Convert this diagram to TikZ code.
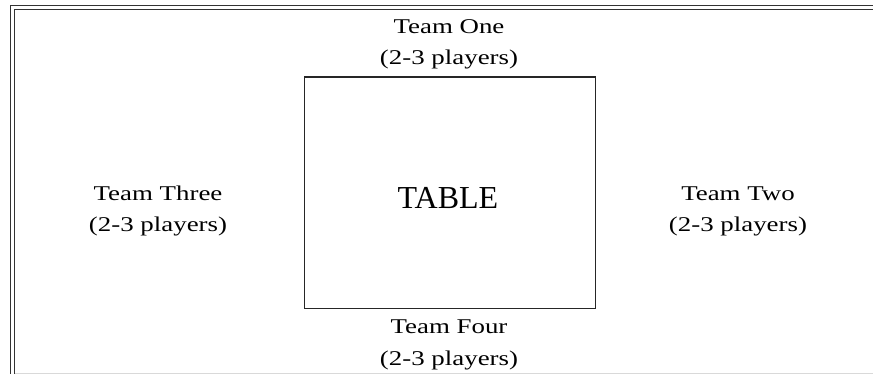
\documentclass[tikz,border=0pt]{standalone}
\usepackage{fontspec}
\setmainfont{Liberation Serif}
\newfontfamily\teamfont[FakeStretch=1.28]{Liberation Serif}
\tikzset{
  team/.style={align=center, anchor=base, inner sep=0pt, font=\teamfont\fontsize{21}{31.5}\selectfont},
  tablebox/.style={draw=black!85, line width=1.5pt},
  frame/.style={draw=black!80, line width=1.8pt}
}
\begin{document}
\begin{tikzpicture}[x=1pt,y=-1pt]
\useasboundingbox (0,0) rectangle (873,374);
\fill[white] (0,0) rectangle (873,374);
% outer double frame (top and left only visible)
\draw[frame] (10.5,374) -- (10.5,5.5) -- (873,5.5);
\draw[frame] (14.5,374) -- (14.5,9.5) -- (873,9.5);
\draw[black!15, line width=1pt] (15,373.5) -- (873,373.5);
% table
\node[tablebox, minimum width=291pt, minimum height=231pt, inner sep=0pt, anchor=north west] (table) at (303.5,76.5) {};
\node[anchor=base, inner sep=0pt, font=\fontsize{32}{36}\selectfont] (tlabel) at (448,208.3) {TABLE};
\node[team] (one) at (449,65) {Team One\\(2-3 players)};
\node[team] (two) at (738,232) {Team Two\\(2-3 players)};
\node[team] (three) at (158,232) {Team Three\\(2-3 players)};
\node[team] (four) at (449,365) {Team Four\\(2-3 players)};
\end{tikzpicture}
\end{document}
